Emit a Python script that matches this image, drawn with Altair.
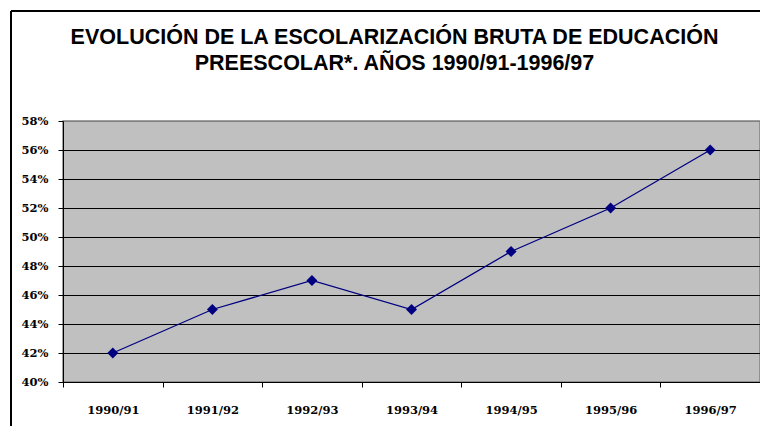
import altair as alt
import pandas as pd

years = ["1990/91", "1991/92", "1992/93", "1993/94", "1994/95", "1995/96", "1996/97"]
rates = [0.42, 0.45, 0.47, 0.45, 0.49, 0.52, 0.56]
y_ticks = [0.40, 0.42, 0.44, 0.46, 0.48, 0.50, 0.52, 0.54, 0.56, 0.58]

df = pd.DataFrame({"year": years, "rate": rates})

W, H = 697, 261
PL, PT = 55, 113

LBL_FONT = "DejaVu Serif"

x_enc = alt.X("year:N", sort=years, title=None,
              scale=alt.Scale(paddingInner=0, paddingOuter=0),
              axis=alt.Axis(labelAngle=0, labelFont=LBL_FONT, labelFontSize=11.5,
                            labelFontWeight="bold", labelColor="black", labelPadding=17,
                            domainColor="black", tickColor="black", tickSize=5,
                            tickBand="extent", grid=False))
y_enc = alt.Y("rate:Q", title=None,
              scale=alt.Scale(domain=[0.40, 0.58], nice=False, zero=False),
              axis=alt.Axis(values=y_ticks, format=".0%", labelFont=LBL_FONT,
                            labelFontSize=11.5, labelFontWeight="bold", labelColor="black",
                            labelPadding=10, domainColor="black", tickColor="black", tickSize=5,
                            grid=True,
                            gridColor={"condition": {"test": "datum.value >= 0.579", "value": "#808080"},
                                       "value": "black"},
                            gridOpacity=1, gridWidth=1))

base = alt.Chart(df)
line = base.mark_line(color="#000080", strokeWidth=1.3).encode(x=x_enc, y=y_enc)
pts = base.mark_point(shape="diamond", filled=True, color="#000080", size=120, opacity=1).encode(x=x_enc, y=y_enc)

frame_top = alt.Chart(df).mark_rule(color="black", strokeWidth=1.8).encode(
    x=alt.value(-52), x2=alt.value(705), y=alt.value(-110))
frame_left = alt.Chart(df).mark_rule(color="black", strokeWidth=1.8).encode(
    x=alt.value(-52), y=alt.value(-110), y2=alt.value(313))

chart = alt.layer(line, pts, frame_top, frame_left).properties(
    width=W, height=H,
    autosize=alt.AutoSizeParams(type="none"),
    padding={"left": PL, "top": PT, "right": 0, "bottom": 44},
    background="white",
    title=alt.TitleParams(
        text=["EVOLUCIÓN DE LA ESCOLARIZACIÓN BRUTA DE EDUCACIÓN",
              "PREESCOLAR*. AÑOS 1990/91-1996/97"],
        font="Liberation Sans", fontSize=21.5, fontWeight="bold", color="black",
        anchor="middle", dx=-17, offset=-64, lineHeight=25.5),
).configure_view(fill="#C0C0C0", stroke="#808080", strokeWidth=1.5)

chart.save("out.html", embed_options={"renderer": "svg", "actions": False})
